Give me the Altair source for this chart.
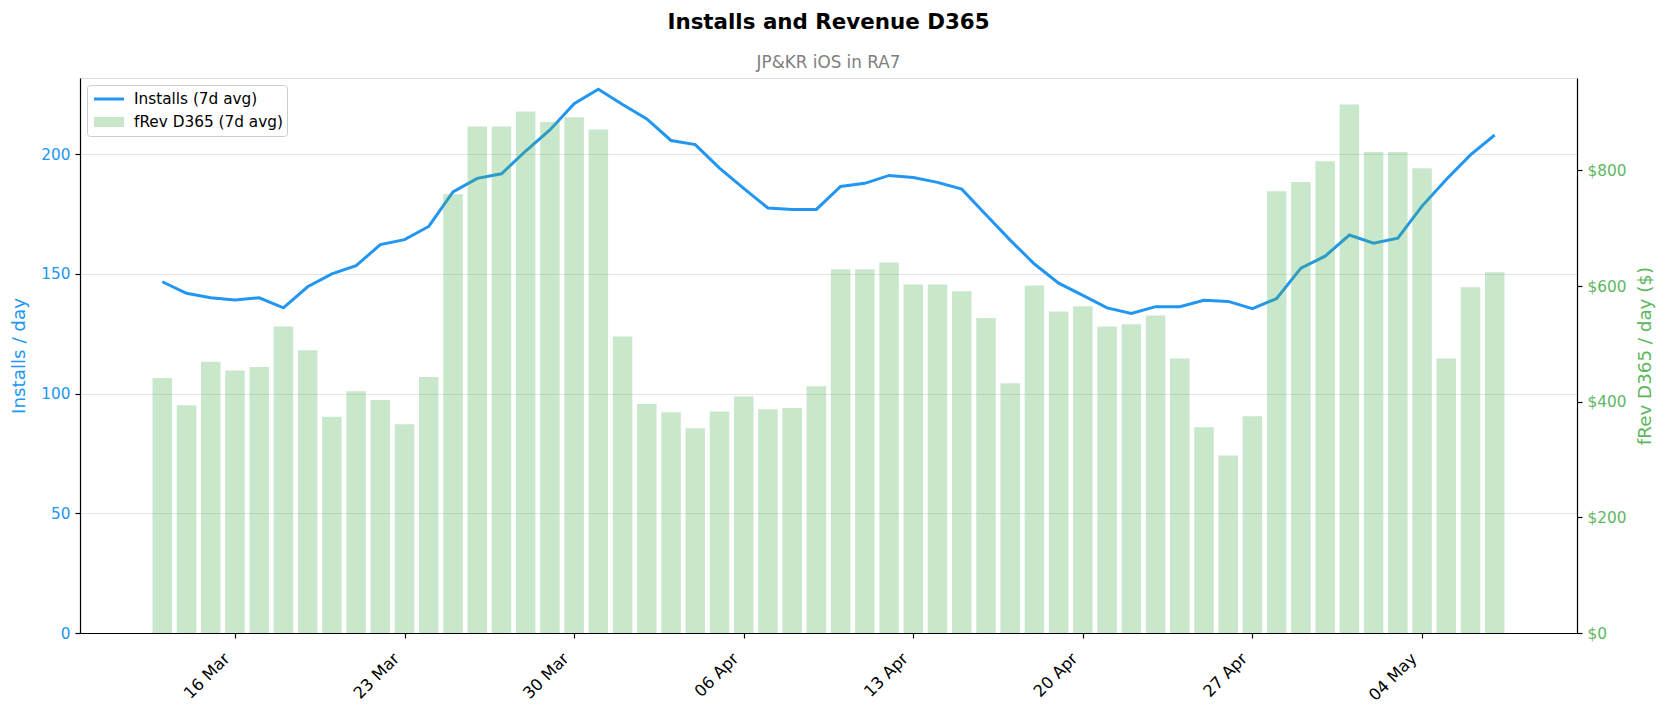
import altair as alt
import pandas as pd

# ---- data ----
dates = pd.date_range("2025-03-13", "2025-05-07", freq="D").strftime("%Y-%m-%d").tolist()

installs = [
    146.7, 141.9, 140.0, 139.1, 140.0, 135.8, 144.6, 150.0, 153.4, 162.2,
    164.3, 169.8, 184.2, 189.9, 191.8, 201.3, 210.1, 221.1, 227.1, 220.7,
    214.7, 205.7, 204.0, 194.2, 185.7, 177.5, 176.9, 176.9, 186.5, 187.8,
    191.1, 190.2, 188.2, 185.4, 174.7, 164.1, 154.1, 146.1, 141.0, 135.8,
    133.5, 136.3, 136.3, 139.0, 138.5, 135.5, 139.7, 152.4, 157.4, 166.2,
    162.8, 164.9, 178.3, 189.4, 199.7, 208.0,
]

revenue = [
    441, 394, 469, 454, 460, 530, 489, 374, 418, 403,
    361, 443, 759, 876, 876, 902, 884, 892, 871, 513,
    396, 382, 354, 383, 409, 387, 389, 427, 629, 629,
    641, 603, 603, 591, 545, 432, 601, 556, 565, 530,
    534, 549, 475, 356, 307, 375, 764, 780, 816, 914,
    832, 832, 804, 475, 598, 624,
]

tick_dates = [(2025, 3, 16), (2025, 3, 23), (2025, 3, 30), (2025, 4, 6),
              (2025, 4, 13), (2025, 4, 20), (2025, 4, 27), (2025, 5, 4)]
left_ticks = [0, 50, 100, 150, 200]
right_ticks = [0, 200, 400, 600, 800]

INST = "Installs (7d avg)"
REV = "fRev D365 (7d avg)"
BLUE = "#2196F3"
GREEN = "#4CAF50"
GREEN_TXT = "#5DB761"
FONT = "DejaVu Sans"

df = pd.DataFrame({"date": dates, "installs": installs, "revenue": revenue})

W, H = 1497, 555

x_scale = alt.Scale(
    type="utc", nice=False,
    domain=[alt.DateTime(year=2025, month=3, date=9, hours=19, minutes=26, utc=True),
            alt.DateTime(year=2025, month=5, date=10, hours=4, minutes=34, utc=True)],
)
x_axis = alt.Axis(
    values=[alt.DateTime(year=y, month=m, date=d, utc=True) for (y, m, d) in tick_dates],
    format="%d %b", labelAngle=315, labelAlign="right", labelBaseline="top",
    labelOffset=-14, labelPadding=12, labelFontSize=16.3, labelColor="black",
    tickColor="black", tickSize=5, tickWidth=1.2, domainColor="black", domainWidth=1.2,
    grid=False, title=None, labelFont=FONT,
)

legend = alt.Legend(
    title=None, orient="top-left", offset=7, padding=4, rowPadding=3, clipHeight=20,
    fillColor="rgba(255,255,255,0.8)", strokeColor="#cccccc", cornerRadius=3,
    labelFontSize=15.3, labelColor="black", labelFont=FONT,
    symbolType="M-3,0L3,0", symbolSize=100, symbolOffset=8, labelOffset=15,
)

series_dom = [INST, REV]

line = alt.Chart(df).transform_calculate(series=f"'{INST}'").mark_line().encode(
    x=alt.X("date:T", scale=x_scale, axis=x_axis),
    y=alt.Y("installs:Q",
            scale=alt.Scale(domain=[0, 231.8], nice=False, zero=True),
            axis=alt.Axis(orient="left", values=left_ticks, grid=True,
                          gridColor="#e5e5e5", gridWidth=1,
                          labelColor=BLUE, labelFontSize=15.3, labelFont=FONT,
                          labelPadding=5, tickColor="black", tickSize=5, tickWidth=1.2,
                          domainColor="black", domainWidth=1.2,
                          title="Installs / day", titleColor=BLUE, titleFontSize=18.3,
                          titleFont=FONT, titleFontWeight="normal", titleAngle=270,
                          titleX=-61, titleY=H / 2, titleAlign="center",
                          titleBaseline="middle")),
    color=alt.Color("series:N", scale=alt.Scale(domain=series_dom, range=[BLUE, GREEN]),
                    legend=legend),
    strokeWidth=alt.StrokeWidth("series:N",
                                scale=alt.Scale(domain=series_dom, range=[3, 10]),
                                legend=legend),
    opacity=alt.Opacity("series:N",
                        scale=alt.Scale(domain=series_dom, range=[1, 0.3]),
                        legend=legend),
)

bars = alt.Chart(df).transform_calculate(series=f"'{REV}'").mark_bar(
    size=19.5, opacity=0.3
).encode(
    x=alt.X("date:T", scale=x_scale, axis=x_axis),
    y=alt.Y("revenue:Q",
            scale=alt.Scale(domain=[0, 960], nice=False, zero=True),
            axis=alt.Axis(orient="right", values=right_ticks, format="$.0f", grid=False,
                          labelColor=GREEN_TXT, labelFontSize=15.3, labelFont=FONT,
                          labelPadding=5, tickColor="black", tickSize=5, tickWidth=1.2,
                          domainColor="black", domainWidth=1.2,
                          title="fRev D365 / day ($)", titleColor=GREEN_TXT,
                          titleFontSize=18.3, titleFont=FONT, titleFontWeight="normal",
                          titleAngle=270, titleX=68.6, titleY=H / 2,
                          titleAlign="center", titleBaseline="middle")),
    color=alt.Color("series:N", legend=None),
)

chart = alt.layer(line, bars).resolve_scale(y="independent").properties(
    width=W, height=H,
    padding={"left": 72, "top": 70, "right": 82, "bottom": 71},
    autosize=alt.AutoSizeParams(type="none"),
    title=alt.TitleParams(
        text="Installs and Revenue D365", subtitle="JP&KR iOS in RA7",
        fontSize=21.4, fontWeight="bold", color="black", font=FONT,
        subtitleFontSize=16.8, subtitleColor="#808080", subtitleFont=FONT,
        subtitlePadding=22, offset=6, anchor="middle",
    ),
).configure_view(stroke="black", strokeWidth=1.2).configure(font=FONT)

chart.save("out.html", embed_options={"renderer": "svg", "actions": False})
